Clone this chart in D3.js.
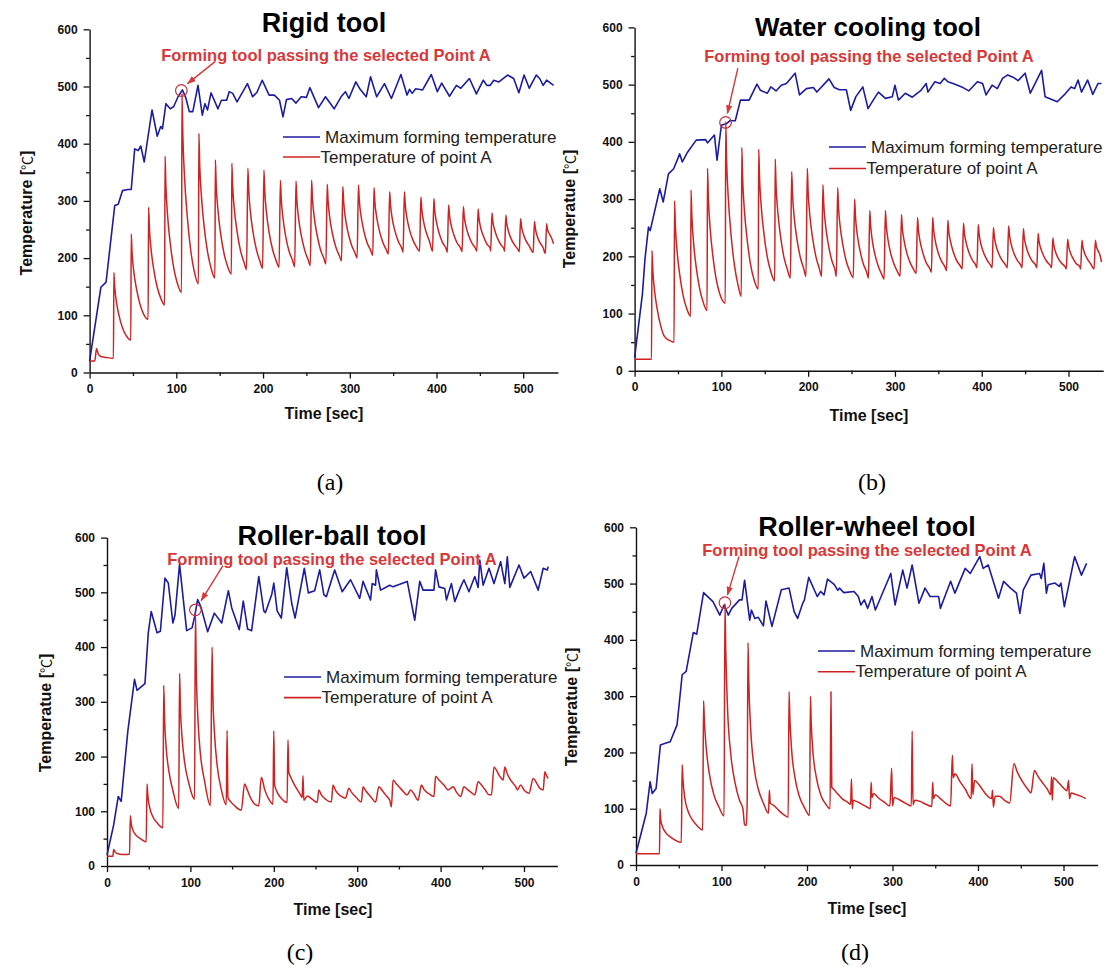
<!DOCTYPE html>
<html><head><meta charset="utf-8">
<script src="https://cdn.jsdelivr.net/npm/d3@7/dist/d3.min.js"></script>
<style>body{margin:0;background:#fff}svg{display:block}</style>
</head><body>
<svg id="chart" width="1110" height="974"></svg>
<script>
// ---------- DATA ----------
const xTicks = [0,100,200,300,400,500];
const xMinor = [50,150,250,350,450];
const yTicks = [0,100,200,300,400,500,600];
const yMinor = [50,150,250,350,450,550];
const titles = ["Rigid tool","Water cooling tool","Roller-ball tool","Roller-wheel tool"];
const yLabels = ["Temperature","Temperatue","Temperatue","Temperatue"];
const captions = ["(a)","(b)","(c)","(d)"];
const seriesNames = ["Maximum forming temperature","Temperature of point A"];
const annotation = "Forming tool passing the selected Point A";
// point A marked on each panel [t, value]
const pointA = [[105.8,493],[104.8,434],[106,468],[104,466]];

const blueA = [[0,20],[13,149],[19,158],[29,292],[33,294],[38,318],[44,320],[48,320],[52,391],[56,388],[59,396],[63,368],[72,459],[78,413],[82,430],[84,426],[88,470],[93,461],[97,465],[102,482],[107,494],[111,480],[115,456],[119,456],[125,502],[130,450],[133,470],[136,459],[140,489],[148,461],[152,476],[158,476],[161,491],[165,488],[170,473],[182,505],[188,482],[193,490],[199,511],[207,485],[213,485],[219,476],[223,447],[227,477],[233,479],[238,471],[244,482],[250,481],[254,498],[264,463],[272,482],[282,461],[290,482],[295,491],[299,479],[307,508],[312,495],[319,482],[324,517],[331,482],[340,505],[348,479],[359,521],[366,485],[369,495],[372,488],[376,496],[384,494],[394,521],[401,491],[406,506],[415,483],[423,502],[428,497],[438,514],[446,487],[454,511],[458,502],[462,502],[466,511],[472,508],[482,520],[489,514],[495,489],[501,520],[507,497],[515,520],[519,514],[523,502],[527,511],[535,502]];

const redA = [[0,20],[6,20],[8,42],[10,32],[13,28],[20,26],[27.5,25],
[28,175],[29,149],[31,123],[34,99],[38,78],[42,65],[47.5,57],
[48,242],[49,209],[51,176],[54,147],[58,120],[62,103],[67.5,93],
[68,289],[69,251],[71,214],[74,180],[78,149],[82,130],[86.5,118],
[87,378],[88,326],[90,273],[93,226],[97,183],[101,157],[106,140],
[106.5,488],[107.5,415],[109.5,341],[112.5,275],[116.5,215],[120.5,178],[125.5,155],
[126,418],[127,362],[129,307],[132,256],[136,211],[140,183],[144.5,165],
[145,372],[146,328],[148,284],[151,244],[155,208],[159,186],[163.5,172],
[164,366],[165,325],[167,284],[170,247],[174,213],[178,193],[181,180],
[182.5,357],[183.5,319],[185.5,280],[188.5,245],[192.5,214],[196.5,194],[199.5,182],
[201,354],[202,317],[204,279],[207,245],[211,215],[215,196],[218.5,184],
[220,336],[221,303],[223,270],[226,239],[230,212],[234,196],[236.5,185],
[238,335],[239,302],[241,270],[244,240],[248,214],[252,197],[254.5,187],
[256,336],[257,304],[259,272],[262,243],[266,216],[270,200],[272.5,190],
[274,329],[275,300],[277,270],[280,243],[284,219],[288,204],[290.5,195],
[292,325],[293,298],[295,270],[298,245],[302,223],[306,209],[308.5,200],
[310,328],[311,301],[313,274],[316,249],[320,227],[324,214],[326.5,205],
[328,323],[329,297],[331,272],[334,249],[338,228],[342,215],[344.5,207],
[346,316],[347,293],[349,269],[352,248],[356,229],[360,217],[361.5,210],
[363,316],[364,293],[366,270],[369,249],[373,231],[377,219],[380.5,212],
[382,307],[383,286],[385,265],[388,246],[392,229],[395.5,212],
[397,304],[398,283],[400,263],[403,244],[407,227],[411,217],[412.5,210],
[414,293],[415,275],[417,257],[420,241],[424,226],[428,217],[429.5,211],
[431,290],[432,273],[434,256],[437,240],[441,226],[445,217],[446.5,212],
[448,286],[449,270],[451,253],[454,239],[458,225],[462,217],[462.5,212],
[464,279],[465,264],[467,250],[470,236],[474,224],[478,215],[478.5,212],
[480,275],[481,261],[483,247],[486,234],[490,223],[494,215],[495.5,211],
[497,269],[498,256],[500,243],[503,231],[507,221],[511.5,210],
[513,264],[514,252],[516,239],[519,228],[523,218],[525.5,208],
[527,260],[528,250],[530,243],[533,234],[535,225]];

const blueB = [[0,23],[9,134],[12,196],[16,251],[18,245],[29,318],[33,295],[39,344],[45,353],[52,379],[55,365],[61,382],[71,403],[82,404],[84,398],[92,412],[95,368],[100,429],[106,432],[110,437],[116,437],[122,473],[132,473],[141,501],[145,490],[153,485],[157,496],[163,489],[169,499],[175,502],[185,520],[190,482],[198,493],[206,495],[210,487],[224,510],[230,495],[236,491],[244,491],[249,455],[255,479],[263,496],[269,458],[275,473],[281,487],[289,476],[297,479],[300,499],[304,473],[312,485],[320,478],[330,490],[336,502],[338,487],[346,505],[352,502],[357,511],[361,505],[367,502],[377,496],[385,489],[395,505],[401,502],[405,482],[412,499],[418,493],[424,511],[430,517],[436,513],[442,507],[450,520],[456,485],[469,525],[473,479],[487,470],[495,482],[503,496],[507,493],[511,508],[515,487],[522,508],[528,483],[534,502],[538,502]];

const redB = [[0,20],[19.5,20],
[20,210],[21,175],[23,140],[26,108],[30,79],[34,61],[40,53],[45.5,50],
[46,297],[47,253],[49,208],[52,168],[56,131],[60,109],[64.5,95],
[65,316],[66,270],[68,223],[71,181],[75,143],[79,120],[83.5,105],
[84,354],[85,302],[87,250],[90,203],[94,160],[98,135],[104.5,118],
[105,435],[106,368],[108,301],[111,240],[115,185],[119,151],[123,130],
[123.5,390],[124.5,336],[126.5,281],[129.5,232],[133.5,187],[137.5,160],[142.5,143],
[143,387],[144,336],[146,286],[149,240],[153,198],[157,173],[161.5,157],
[162,370],[163,324],[165,278],[168,237],[172,199],[176,177],[179.5,162],
[181,348],[182,308],[184,267],[187,231],[191,198],[195,178],[197.5,165],
[199,354],[200,312],[202,271],[205,233],[209,199],[213,178],[215.5,165],
[217,325],[218,290],[220,255],[223,223],[227,194],[231,176],[232.5,165],
[234,320],[235,285],[237,251],[240,220],[244,191],[248,174],[252,163],
[253.5,300],[254.5,270],[256.5,239],[259.5,212],[263.5,187],[267.5,172],[269.5,162],
[271,280],[272,254],[274,227],[277,203],[281,182],[285,168],[287.5,160],
[289,280],[290,255],[292,229],[295,206],[299,186],[303,173],[306,165],
[307.5,273],[308.5,250],[310.5,228],[313.5,207],[317.5,189],[321.5,177],[324.5,170],
[326,268],[327,247],[329,226],[332,207],[336,189],[340,179],[342,172],
[343.5,268],[344.5,248],[346.5,227],[349.5,208],[353.5,192],[357.5,182],[359.5,175],
[361,263],[362,244],[364,226],[367,209],[371,193],[375,184],[377.5,178],
[379,258],[380,241],[382,224],[385,208],[389,194],[393,185],[394.5,180],
[396,255],[397,239],[399,222],[402,207],[406,194],[410,185],[412,180],
[413.5,250],[414.5,235],[416.5,219],[419.5,205],[423.5,193],[427.5,185],[429.5,180],
[431,253],[432,237],[434,221],[437,206],[441,193],[445,185],[446.5,180],
[448,248],[449,233],[451,218],[454,204],[458,192],[462,185],[463.5,180],
[465,240],[466,227],[468,214],[471,202],[475,191],[479,184],[480.5,180],
[482,232],[483,220],[485,208],[488,197],[492,188],[496,182],[497.5,178],
[499,230],[500,219],[502,207],[505,197],[509,187],[513,182],[514,178],
[515.5,228],[516.5,217],[518.5,206],[521.5,196],[525.5,187],[529.5,178],
[531,228],[532,218],[534,210],[537,198],[538,190]];

const blueC = [[0,20],[8,75],[13.5,127],[17,118],[25,247],[33,341],[36,321],[45.5,333],[49.5,426],[53,465],[60,426],[64,429],[69.5,526],[73.5,517],[79,444],[81.5,458],[87,551],[95.5,430],[102,435],[105,455],[108.7,487],[112.7,473],[120.7,428],[128.7,462],[137.5,444],[145.5,503],[149.5,472],[158.6,432],[163.4,484],[168.6,433],[173.4,430],[182,529],[188,466],[190,463],[197.5,496],[200,517],[204,466],[209,453],[215.5,545],[221.5,480],[225.5,453],[236.6,544],[241.4,499],[249,503],[255,541],[260,496],[263,492],[273,541],[282,501],[292,523],[303,489],[307,520],[316,486],[318,516],[322,513],[323,541],[328,504],[339,513],[343,510],[360,520],[369,449],[375,520],[379,504],[392,504],[394,541],[398,510],[405,507],[407,486],[413,516],[417,483],[424,510],[428,523],[434,501],[441,529],[445,509],[447,559],[451,513],[458,544],[464,516],[472,556],[477,516],[480,565],[483,509],[494,550],[500,526],[508,538],[517,504],[523,544],[528,541],[529,547]];

const redC = [[0,18],[7,18],[8,30],[10,25],[14,22],[22,21],[27,22],[28,92],[29,78],[31,66],[35,56],[40,50],[47,44],[48,150],[49,128],[51,108],[55,90],[60,79],[67,70],[68,330],[69,270],[71,215],[74,175],[79,138],[86,105],[87,352],[88,290],[90,235],[93,190],[98,152],[105,122],[106,465],[107,360],[109,270],[112,205],[117,155],[124,110],[126,400],[127,310],[129,240],[132,185],[137,140],[143,112],[144,248],[145,125],[148,118],[153,110],[161,102],[165,150],[168,140],[172,125],[178,112],[182,110],[185,162],[189,140],[194,122],[199,113],[200,247],[201,148],[204,135],[210,122],[216,116],[217,230],[218,172],[221,160],[226,145],[232,130],[234,125],[235,165],[236,120],[240,128],[246,122],[252,116],[254,139],[257,130],[262,122],[269,117],[271,148],[274,138],[280,128],[286,124],[290,142],[293,135],[299,125],[305,117],[307,145],[310,138],[316,127],[322,117],[326,145],[330,138],[335,128],[339,120],[341,108],[343,157],[347,150],[353,140],[360,130],[364,139],[368,132],[373,120],[377,148],[380,140],[386,132],[392,127],[394,164],[398,157],[404,148],[409,139],[412,142],[415,145],[419,135],[424,127],[428,145],[432,140],[437,134],[441,130],[445,154],[449,148],[454,138],[458,130],[461,130],[464,181],[467,175],[470,166],[473,160],[475,157],[477,181],[480,168],[484,157],[487,151],[490,145],[492,139],[496,148],[500,139],[503,135],[506,133],[511,160],[515,152],[519,142],[523,139],[525,172],[527,165],[529,160]];

const blueD = [[0,21],[12,92],[16.5,148],[19,127],[23.5,136],[28.5,213],[36,217],[40,219],[48,249],[54,338],[58.7,344],[67,413],[71,410],[79,484],[90,468],[98,444],[103,462],[108,444],[112,456],[121,471],[124,471],[127,506],[133,435],[135,453],[139,438],[143,440],[149,425],[152,469],[159,424],[170,489],[179,492],[185,450],[189,438],[195,465],[197,471],[202,511],[212,477],[216,486],[220,480],[224,508],[232,498],[236,488],[238,492],[243,484],[255,486],[260,477],[263,462],[267,471],[271,456],[276,477],[280,453],[290,489],[298,518],[303,462],[312,524],[317,492],[323,533],[331,465],[338,492],[344,477],[354,477],[356,456],[362,480],[368,504],[373,483],[385,527],[391,518],[402,548],[406,527],[412,533],[424,474],[430,504],[438,492],[445,483],[449,447],[453,489],[462,515],[472,518],[474,509],[477,536],[480,483],[482,498],[490,501],[495,495],[497,501],[501,459],[513,548],[521,515],[527,536]];

const redD = [[0,20],[27.5,20],[28,100],[29,80],[31,68],[35,57],[40,50],[46,44],[53,40],[54,178],[55,150],[57,120],[61,95],[66,80],[72,69],[78,62],[79,292],[80,255],[82,210],[86,160],[91,125],[97,103],[103,87],[104,465],[105,380],[107,280],[111,195],[116,145],[121,115],[125,100],[127,72],[129,70],[130,110],[131,395],[132,320],[134,245],[138,175],[143,135],[149,110],[155,92],[156,133],[157,110],[161,106],[167,97],[173,89],[178,85],[179,308],[180,260],[182,205],[186,155],[191,122],[197,102],[203,88],[204,300],[205,250],[207,200],[211,155],[216,125],[222,108],[227,100],[228,308],[229,138],[231,135],[235,128],[241,118],[247,112],[251,108],[252,153],[253,100],[254,115],[258,113],[264,108],[270,103],[274,100],[275,147],[276,120],[278,127],[283,120],[290,112],[297,105],[299,172],[300,105],[302,120],[308,116],[315,110],[322,105],[323,238],[324,107],[326,115],[332,113],[339,108],[346,104],[347,147],[348,118],[350,125],[356,118],[362,110],[368,105],[370,195],[371,155],[373,162],[379,148],[385,135],[392,118],[393,180],[394,125],[396,150],[401,143],[407,130],[413,120],[416,118],[417,133],[418,103],[420,122],[425,122],[431,115],[437,110],[442,180],[446,165],[452,148],[458,135],[462,128],[466,168],[470,158],[476,145],[481,135],[485,125],[486,157],[487,115],[488,155],[492,150],[498,140],[504,132],[506,150],[507,118],[509,128],[515,125],[521,122],[526,118]];

const blueSeries = [blueA, blueB, blueC, blueD];
const redSeries = [redA, redB, redC, redD];

// ---------- LAYOUT ----------
const layout = [
 {x0:89.6, x500:523.2, y0:372.5, y600:29.3, titleX:324, titleY:23, titleFs:27, annX:326, annY:55,
  arrow:[[145,544],[113,505]], legX:283, legY:137, legDy:20, ylabX:25.5, ylabY:213, xlabX:324, xlabY:413, capX:330, capY:482},
 {x0:634.6, x500:1068.5, y0:370.8, y600:27.4, titleX:868, titleY:27, titleFs:26, annX:869, annY:56,
  arrow:[[119,529],[107,450]], legX:829, legY:147, legDy:21.5, ylabX:569, ylabY:209, xlabX:869, xlabY:415, capX:872, capY:482},
 {x0:107, x500:524, y0:866, y600:537.6, titleX:332, titleY:535.5, titleFs:27, annX:332, annY:559,
  arrow:[[139,549],[113,485]], legX:284, legY:677, legDy:20.6, ylabX:45, ylabY:713, xlabX:333, xlabY:909, capX:300, capY:952},
 {x0:636, x500:1063.5, y0:865, y600:527.3, titleX:867, titleY:527, titleFs:27, annX:867, annY:550,
  arrow:[[120.5,548],[107,480]], legX:818, legY:651, legDy:20.7, ylabX:571, ylabY:707, xlabX:867, xlabY:908, capX:855, capY:952}
];

const BLUE = "#1c1ca0", RED = "#d02222", ANN = "#d8383a";
const FONT = "'Liberation Sans', Arial, sans-serif";
const svg = d3.select("#chart");
svg.append("defs").append("marker").attr("id","arr").attr("viewBox","0 0 10 10")
  .attr("refX",9).attr("refY",5).attr("markerWidth",9).attr("markerHeight",9)
  .attr("markerUnits","userSpaceOnUse").attr("orient","auto")
  .append("path").attr("d","M0,1.5L10,5L0,8.5Z").attr("fill",ANN);

layout.forEach((L, i) => {
  const k = (L.x500 - L.x0) / 500;
  const x = d3.scaleLinear().domain([0, 540]).range([L.x0, L.x0 + 540 * k]);
  const y = d3.scaleLinear().domain([0, 600]).range([L.y0, L.y600]);
  const g = svg.append("g");

  // axes
  g.append("g").attr("transform", `translate(${L.x0},0)`)
    .call(d3.axisLeft(y).tickValues(yTicks).tickSize(6).tickSizeOuter(0).tickPadding(6));
  g.append("g").attr("transform", `translate(${L.x0},0)`)
    .call(d3.axisLeft(y).tickValues(yMinor).tickSize(3.5).tickFormat("")).select(".domain").remove();
  g.append("g").attr("transform", `translate(0,${L.y0})`)
    .call(d3.axisBottom(x).tickValues(xTicks).tickSize(6).tickSizeOuter(0).tickPadding(6));
  g.append("g").attr("transform", `translate(0,${L.y0})`)
    .call(d3.axisBottom(x).tickValues(xMinor).tickSize(3.5).tickFormat("")).select(".domain").remove();
  g.selectAll(".domain").attr("stroke","#111").attr("stroke-width",1.4);
  g.selectAll(".tick line").attr("stroke","#111").attr("stroke-width",1.3);
  g.selectAll(".tick text").attr("font-family",FONT).attr("font-weight","bold")
    .attr("font-size",12).attr("fill","#111");

  // lines
  g.append("path").datum(blueSeries[i])
    .attr("d", d3.line().x(d => x(d[0])).y(d => y(d[1])))
    .attr("fill","none").attr("stroke",BLUE).attr("stroke-width",1.6).attr("stroke-linejoin","round");
  g.append("path").datum(redSeries[i])
    .attr("d", d3.line().x(d => x(d[0])).y(d => y(d[1])).curve(d3.curveMonotoneX))
    .attr("fill","none").attr("stroke",RED).attr("stroke-width",1.5).attr("stroke-linejoin","round");

  // point A circle + arrow + annotation
  g.append("circle").attr("cx", x(pointA[i][0])).attr("cy", y(pointA[i][1])).attr("r", 5.8)
    .attr("fill","none").attr("stroke","#c2303c").attr("stroke-width",1.2);
  g.append("line").attr("x1", x(L.arrow[0][0])).attr("y1", y(L.arrow[0][1]))
    .attr("x2", x(L.arrow[1][0])).attr("y2", y(L.arrow[1][1]))
    .attr("stroke",ANN).attr("stroke-width",1.4).attr("marker-end","url(#arr)");
  g.append("text").attr("x",L.annX).attr("y",L.annY).attr("text-anchor","middle")
    .attr("dominant-baseline","central").attr("font-family",FONT).attr("font-weight","bold")
    .attr("font-size",16.5).attr("fill",ANN).text(annotation);

  // title
  g.append("text").attr("x",L.titleX).attr("y",L.titleY).attr("text-anchor","middle")
    .attr("dominant-baseline","central").attr("font-family",FONT).attr("font-weight","bold")
    .attr("font-size", L.titleFs).attr("fill","#000").text(titles[i]);

  // legend
  [[BLUE, seriesNames[0]], [RED, seriesNames[1]]].forEach(([c, t], j) => {
    const ly = L.legY + j * L.legDy;
    g.append("line").attr("x1",L.legX).attr("x2",L.legX+37).attr("y1",ly).attr("y2",ly)
      .attr("stroke",c).attr("stroke-width",1.6);
    g.append("text").attr("x",L.legX + (j === 0 ? 42 : 37.5)).attr("y",ly)
      .attr("dominant-baseline","central").attr("font-family",FONT).attr("font-size",17)
      .attr("fill","#222").text(t);
  });

  // axis titles
  g.append("text").attr("x",L.xlabX).attr("y",L.xlabY).attr("text-anchor","middle")
    .attr("dominant-baseline","central").attr("font-family",FONT).attr("font-weight","bold")
    .attr("font-size",16).attr("fill","#111").text("Time [sec]");
  const yl = g.append("text").attr("transform",`translate(${L.ylabX},${L.ylabY}) rotate(-90)`)
    .attr("text-anchor","middle").attr("dominant-baseline","central")
    .attr("font-family",FONT).attr("font-weight","bold").attr("font-size",16).attr("fill","#111");
  yl.append("tspan").text(yLabels[i] + " [");
  yl.append("tspan").attr("font-weight","normal").attr("font-family","'Noto Sans CJK SC', 'DejaVu Sans'").attr("font-size",14).text("℃");
  yl.append("tspan").text("]");

  // caption
  svg.append("text").attr("x",L.capX).attr("y",L.capY).attr("text-anchor","middle")
    .attr("dominant-baseline","central").attr("font-family","'Liberation Serif', 'Times New Roman', serif")
    .attr("font-size",24).attr("fill","#000").text(captions[i]);
});
</script>
</body></html>
